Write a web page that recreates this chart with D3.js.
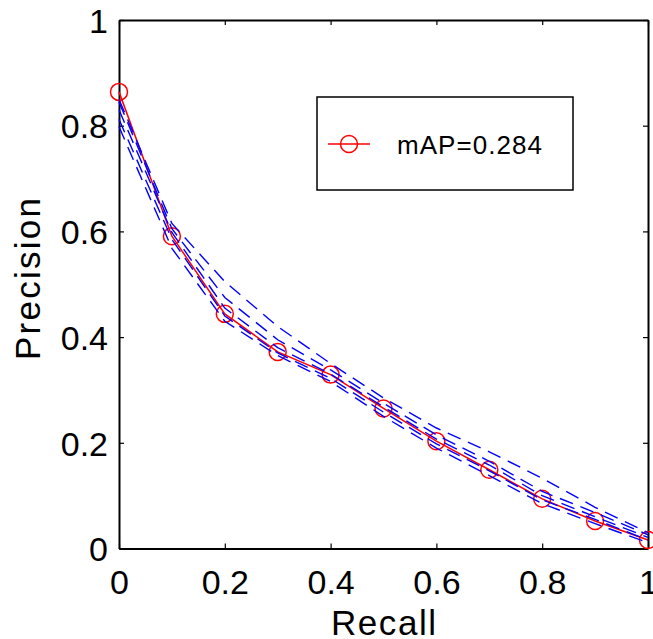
<!DOCTYPE html>
<html><head><meta charset="utf-8">
<script src="https://cdn.jsdelivr.net/npm/d3@7"></script>
<style>html,body{margin:0;padding:0;background:#fff;} svg{display:block;font-family:"Liberation Sans",Arial,Helvetica,sans-serif;}</style>
</head><body>
<svg id="c" width="653" height="639"></svg>
<script>
const recall = [0,0.1,0.2,0.3,0.4,0.5,0.6,0.7,0.8,0.9,1.0];
const precisionMean = [0.864,0.591,0.444,0.372,0.329,0.265,0.203,0.149,0.094,0.052,0.016];
const runA = [0.850,0.615,0.505,0.420,0.350,0.285,0.228,0.183,0.133,0.078,0.030];
const runB = [0.845,0.605,0.475,0.395,0.338,0.275,0.215,0.165,0.108,0.068,0.026];
const runC = [0.830,0.598,0.455,0.380,0.330,0.268,0.207,0.158,0.100,0.060,0.021];
const runD = [0.812,0.585,0.440,0.370,0.322,0.258,0.198,0.147,0.092,0.055,0.016];
const runE = [0.798,0.568,0.430,0.365,0.316,0.250,0.190,0.138,0.085,0.047,0.011];
const runs = [runA, runB, runC, runD, runE];
const ticks = [0,0.2,0.4,0.6,0.8,1];
const legendLabel = "mAP=0.284";
const xLabel = "Recall", yLabel = "Precision";

const svg = d3.select("#c");
const L = 119, R = 648, T = 20, B = 548.5;
const x = d3.scaleLinear().domain([0,1]).range([L,R]);
const y = d3.scaleLinear().domain([0,1]).range([B,T]);
const fmt = d => d === 0 || d === 1 ? String(d) : d3.format(".1f")(d);

// axes
const xb = svg.append("g").attr("transform",`translate(0,${B})`)
  .call(d3.axisBottom(x).tickValues(ticks).tickSizeInner(-5).tickSizeOuter(0).tickPadding(22).tickFormat(fmt));
const xt = svg.append("g").attr("transform",`translate(0,${T})`)
  .call(d3.axisTop(x).tickValues(ticks).tickSizeInner(-5).tickSizeOuter(0).tickFormat(""));
const yl = svg.append("g").attr("transform",`translate(${L},0)`)
  .call(d3.axisLeft(y).tickValues(ticks).tickSizeInner(-5).tickSizeOuter(0).tickPadding(16).tickFormat(fmt));
const yr = svg.append("g").attr("transform",`translate(${R},0)`)
  .call(d3.axisRight(y).tickValues(ticks).tickSizeInner(-5).tickSizeOuter(0).tickFormat(""));
[xb,xt,yl,yr].forEach(g=>{
  g.select(".domain").attr("stroke","#000").attr("stroke-width",2);
  g.selectAll(".tick line").attr("stroke","#000").attr("stroke-width",1.2);
  g.selectAll("text").attr("font-size",34).attr("fill","#000").attr("font-family","Liberation Sans, Arial, sans-serif");
});
xb.selectAll("text").attr("dy",null).attr("y",45);
yl.selectAll("text").attr("dy","0.36em").attr("x",-11);

// lines
const line = d3.line().x((d,i)=>x(recall[i])).y(d=>y(d));
svg.append("path").datum(precisionMean).attr("d",line)
  .attr("fill","none").attr("stroke","#ff0000").attr("stroke-width",1.5);
svg.selectAll("circle.m").data(precisionMean).join("circle").attr("class","m")
  .attr("cx",(d,i)=>x(recall[i])).attr("cy",d=>y(d)).attr("r",8.5)
  .attr("fill","none").attr("stroke","#ff0000").attr("stroke-width",1.5);
svg.selectAll("path.run").data(runs).join("path").attr("class","run")
  .attr("d",line).attr("fill","none").attr("stroke","#0000ff")
  .attr("stroke-width",1.4).attr("stroke-dasharray","14,8");

// labels
svg.append("text").attr("x",(L+R)/2).attr("y",635).attr("text-anchor","middle")
  .attr("font-size",35).attr("textLength",105).attr("lengthAdjust","spacing").text(xLabel);
svg.append("text").attr("transform","translate(40,279) rotate(-90)").attr("text-anchor","middle")
  .attr("font-size",35).attr("textLength",162).attr("lengthAdjust","spacing").text(yLabel);

// legend
const lg = svg.append("g");
lg.append("rect").attr("x",317).attr("y",97).attr("width",256).attr("height",93)
  .attr("fill","#fff").attr("stroke","#000").attr("stroke-width",1.5);
lg.append("line").attr("x1",328).attr("x2",370).attr("y1",144).attr("y2",144)
  .attr("stroke","#ff0000").attr("stroke-width",1.5);
lg.append("circle").attr("cx",349).attr("cy",144).attr("r",8.5)
  .attr("fill","none").attr("stroke","#ff0000").attr("stroke-width",1.5);
lg.append("text").attr("x",397).attr("y",154).attr("font-size",26)
  .attr("textLength",145).attr("lengthAdjust","spacing").text(legendLabel);
</script>
</body></html>
